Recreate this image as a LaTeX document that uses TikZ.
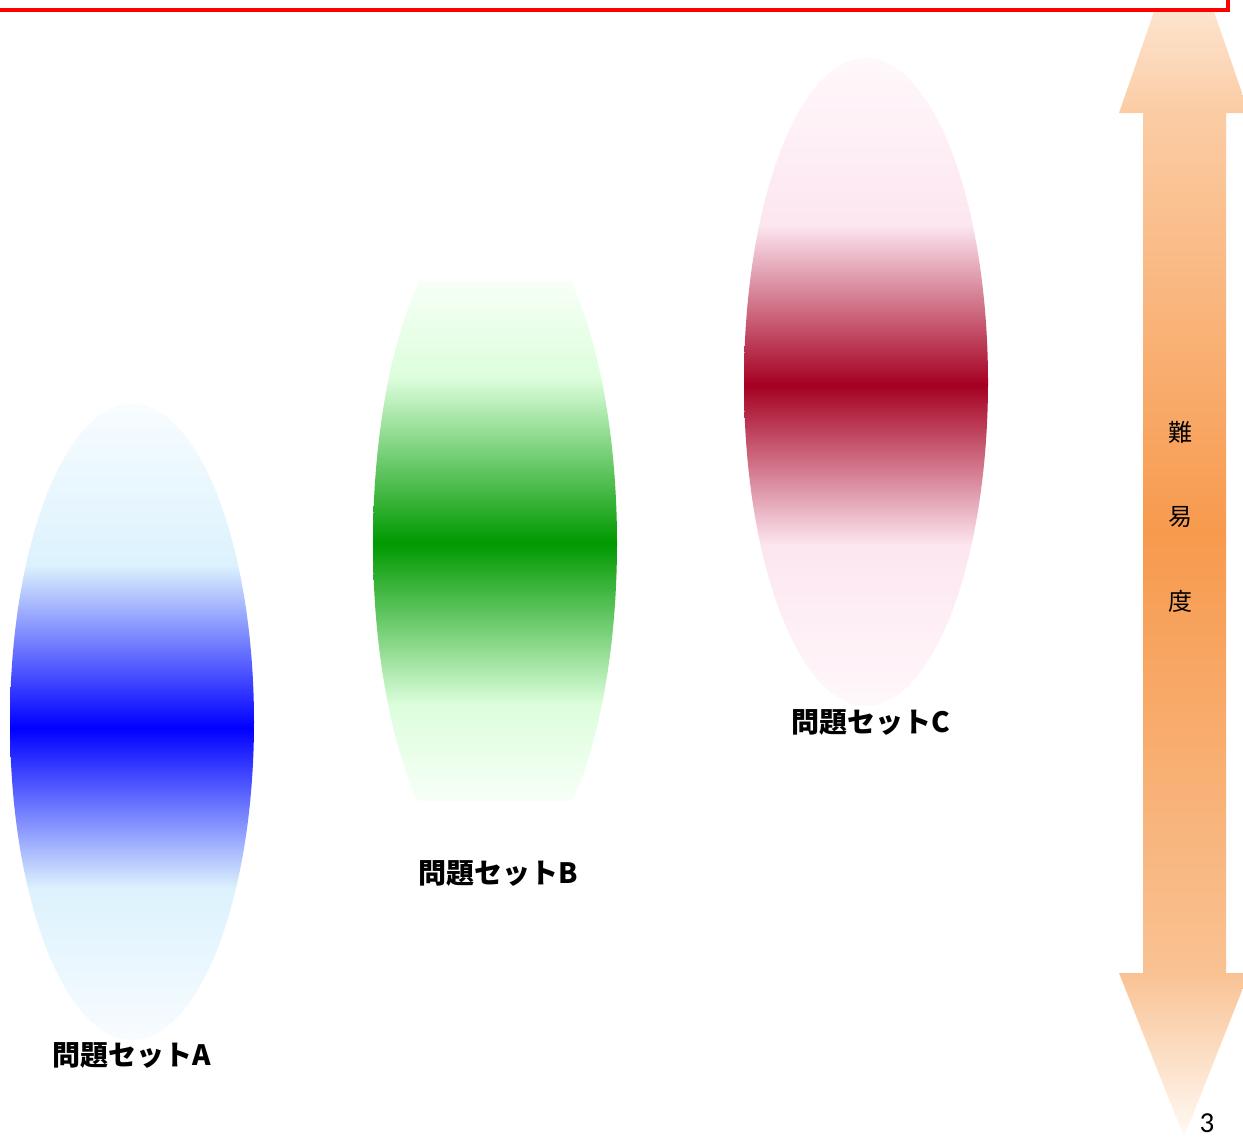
\documentclass[tikz,border=0pt]{standalone}
\usepackage{fontspec}
\newfontfamily\cjk{Noto Sans CJK JP}
\newfontfamily\calib{Carlito}
\definecolor{aEnd}{HTML}{F8FCFF}
\definecolor{aLight}{HTML}{DCF2FD}
\definecolor{aCore}{HTML}{0000FF}
\definecolor{bEnd}{HTML}{F7FFF7}
\definecolor{bLight}{HTML}{DCFEDC}
\definecolor{bCore}{HTML}{009900}
\definecolor{cEnd}{HTML}{FFF8FB}
\definecolor{cLight}{HTML}{FCE6F0}
\definecolor{cCore}{HTML}{A50021}
\definecolor{arrTip}{HTML}{FFF8F2}
\definecolor{arrHeadTop}{HTML}{FBCCA4}
\definecolor{arrHeadBot}{HTML}{F9C293}
\definecolor{arrTipBot}{HTML}{FFFAF5}
\definecolor{arrCore}{HTML}{F79A4E}
\definecolor{frameRed}{HTML}{FF0000}
\pgfdeclareverticalshading{shadeA}{100bp}{color(0bp)=(aEnd); color(25bp)=(aEnd); color(36.95bp)=(aLight); color(49.53bp)=(aCore); color(62.34bp)=(aLight); color(75bp)=(aEnd); color(100bp)=(aEnd)}
\pgfdeclareverticalshading{shadeB}{100bp}{color(0bp)=(bEnd); color(25bp)=(bEnd); color(34.15bp)=(bLight); color(49.76bp)=(bCore); color(65.66bp)=(bLight); color(75bp)=(bEnd); color(100bp)=(bEnd)}
\pgfdeclareverticalshading{shadeC}{100bp}{color(0bp)=(cEnd); color(25bp)=(cEnd); color(37.42bp)=(cLight); color(49.77bp)=(cCore); color(62.11bp)=(cLight); color(75bp)=(cEnd); color(100bp)=(cEnd)}
\pgfdeclareverticalshading{shadeArrow}{100bp}{color(0bp)=(arrTipBot); color(25bp)=(arrTipBot); color(31.77bp)=(arrHeadBot); color(50bp)=(arrCore); color(67.24bp)=(arrHeadTop); color(75bp)=(arrTip); color(100bp)=(arrTip)}
\tikzset{
  setlabel/.style={font=\cjk\bfseries\fontsize{28}{30}\selectfont, text=black, inner sep=0pt},
  scalelabel/.style={font=\cjk\fontsize{24}{26}\selectfont, text=black, inner sep=0pt},
  pagenum/.style={font=\calib\fontsize{29}{31}\selectfont, text=black, inner sep=0pt, anchor=base},
  frameline/.style={draw=frameRed, line width=4pt, fill=white},
}
\begin{document}
\begin{tikzpicture}[x=1pt,y=-1pt]
\useasboundingbox (0,0) rectangle (1243,1138);
\clip (0,0) rectangle (1243,1138);
% difficulty arrow
\shade[shading=shadeArrow] (1184,-75) -- (1249,113) -- (1226,113) -- (1226,973) -- (1249,973) -- (1184,1137) -- (1119,973) -- (1143,973) -- (1143,113) -- (1119,113) -- cycle;
\node[scalelabel] (nan) at (1180,432) {難};
\node[scalelabel] (i) at (1180,517) {易};
\node[scalelabel] (do) at (1180,601) {度};
% frame
\draw[frameline] (-20,-100) rectangle (1228,10);
% set A
\shade[shading=shadeA] (132,722) ellipse [x radius=122, y radius=318];
% set B (clipped ellipse)
\begin{scope}
  \clip (495,543) ellipse [x radius=122, y radius=335];
  \shade[shading=shadeB] (372,281) rectangle (618,800);
\end{scope}
% set C
\shade[shading=shadeC] (866,382) ellipse [x radius=122, y radius=324];
% labels
\node[setlabel] (la) at (132,1055) {問題セットA};
\node[setlabel] (lb) at (498,873) {問題セットB};
\node[setlabel] (lc) at (871,722) {問題セットC};
\node[pagenum] (pg) at (1207,1132) {3};
\end{tikzpicture}
\end{document}
